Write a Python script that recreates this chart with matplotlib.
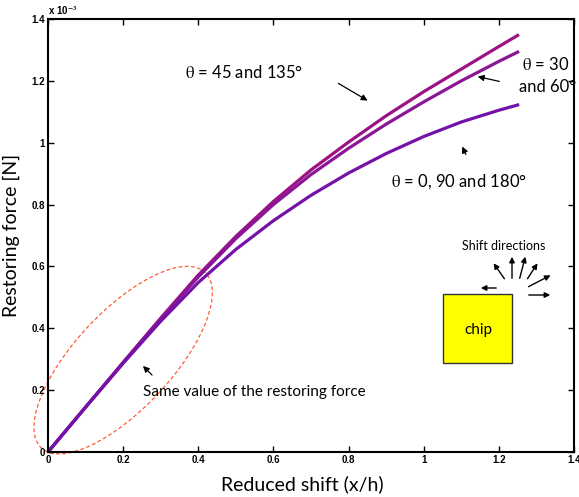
import numpy as np
import matplotlib
matplotlib.use('Agg')
import matplotlib.pyplot as plt
from matplotlib.patches import Ellipse, Rectangle
from matplotlib.transforms import ScaledTranslation

plt.rcParams['mathtext.fontset'] = 'stix'

# reduced shift x/h
shift = [0, 0.1, 0.2, 0.3, 0.4, 0.5, 0.6, 0.7, 0.8, 0.9, 1.0, 1.1, 1.2, 1.25]
# restoring force, x 1e-3 N
f_45 = [0, 0.145, 0.29, 0.433, 0.572, 0.697, 0.81, 0.912, 1.002, 1.087, 1.165, 1.238, 1.311, 1.347]
f_30 = [0, 0.145, 0.288, 0.43, 0.566, 0.69, 0.8, 0.897, 0.982, 1.06, 1.132, 1.2, 1.263, 1.293]
f_0 = [0, 0.145, 0.287, 0.423, 0.548, 0.655, 0.748, 0.83, 0.902, 0.965, 1.02, 1.067, 1.105, 1.122]

xticks = [0, 0.2, 0.4, 0.6, 0.8, 1, 1.2, 1.4]
yticks = [0, 0.2, 0.4, 0.6, 0.8, 1, 1.2, 1.4]

fig = plt.figure(figsize=(5.79, 4.97), dpi=100)
ax = fig.add_axes([48/579, 45/497, 526/579, 433/497])

ax.plot(shift, f_45, color='#9c1284', lw=2.3)
ax.plot(shift, f_30, color='#8a1697', lw=2.3)
ax.plot(shift, f_0, color='#7411a8', lw=2.3)

ax.set_xlim(0, 1.4)
ax.set_ylim(0, 1.4)
ax.set_xticks(xticks)
ax.set_yticks(yticks)
ax.set_xticklabels(['%g' % t for t in xticks])
ax.set_yticklabels(['%g' % t for t in yticks])
ax.tick_params(direction='in', length=4, width=1, top=True, right=True, labelsize=7, pad=2)
for lab in ax.get_xticklabels() + ax.get_yticklabels():
    lab.set_fontweight('bold')
    lab.set_family('Liberation Sans')
for s in ax.spines.values():
    s.set_linewidth(1.5)

ax.text(0.0, 1.005, r'x 10$^{\mathbf{-3}}$', transform=ax.transAxes, fontsize=7,
        fontweight='bold', family='Liberation Sans', va='bottom', ha='left')

ax.set_xlabel('Reduced shift (x/h)', fontsize=14, family='Lato')
ax.set_ylabel('Restoring force [N]', fontsize=14, family='Lato', labelpad=8)
ax.xaxis.set_label_coords(0.483, -0.054)

# ellipse around the common initial slope
etr = fig.dpi_scale_trans + ScaledTranslation(0.2, 0.297, ax.transData)
ax.add_patch(Ellipse((0, 0), 2.4, 0.97, angle=47, transform=etr, fill=False,
                     ec='#ff5a33', lw=0.9, ls=(0, (3, 2)), clip_on=False))

H = 497
def fp(x, y):
    return (x, H - y)

th = r'$\mathrm{\theta}$'
afont = dict(family='Lato', fontsize=12)
arr = dict(arrowstyle='-|>', color='black', lw=0.9, mutation_scale=9)

ax.annotate('', xy=fp(370, 102), xytext=fp(336, 82), xycoords='figure pixels',
            textcoords='figure pixels', arrowprops=arr)
fig.text(244/579, 1 - 72/H, th + ' = 45 and 135°', ha='center', va='center', **afont)

ax.annotate('', xy=fp(475, 76), xytext=fp(502, 82), xycoords='figure pixels',
            textcoords='figure pixels', arrowprops=arr)
fig.text(522/579, 1 - 64/H, th + ' = 30', ha='left', va='center', **afont)
fig.text(519/579, 1 - 87/H, 'and 60°', ha='left', va='center', **afont)

ax.annotate('', xy=fp(461, 144), xytext=fp(467, 157), xycoords='figure pixels',
            textcoords='figure pixels', arrowprops=arr)
fig.text(459/579, 1 - 182/H, th + ' = 0, 90 and 180°', ha='center', va='center', **afont)

ax.annotate('', xy=fp(141, 364), xytext=fp(154, 377), xycoords='figure pixels',
            textcoords='figure pixels', arrowprops=arr)
fig.text(143/579, 1 - 392/H, 'Same value of the restoring force', ha='left', va='center',
         family='Lato', fontsize=11)

# chip sketch
fig.patches.append(Rectangle((443/579, 1 - 363/H), 69/579, 69/H, transform=fig.transFigure,
                             fc='#ffff00', ec='#333333', lw=1))
fig.text(478/579, 1 - 330/H, 'chip', ha='center', va='center', family='Lato', fontsize=11)
fig.text(504/579, 1 - 246/H, 'Shift directions', ha='center', va='center', family='Lato', fontsize=9)
dirs = [((499, 288), (478, 288)), ((506, 281), (492, 261)), ((512, 281), (512, 254)),
        ((519, 281), (526, 254)), ((526, 281), (539, 261)), ((526, 288), (553, 274)),
        ((526, 295), (553, 295))]
sarr = dict(arrowstyle='-|>', color='black', lw=1.0, mutation_scale=8)
for a, b in dirs:
    ax.annotate('', xy=fp(*b), xytext=fp(*a), xycoords='figure pixels',
                textcoords='figure pixels', arrowprops=sarr)

fig.savefig('out.png', dpi=100)
